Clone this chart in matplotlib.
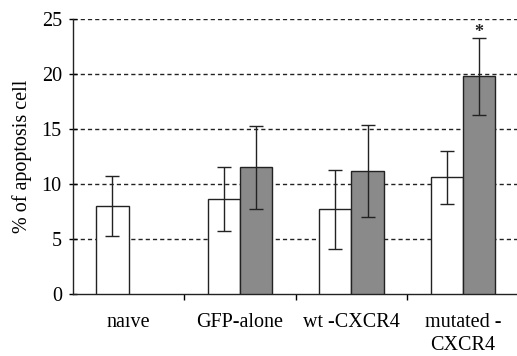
import matplotlib
matplotlib.use("Agg")
import matplotlib.pyplot as plt
import numpy as np

categories = ["naıve", "GFP-alone", "wt -CXCR4", "mutated -\nCXCR4"]
white_vals = [8.0, 8.6, 7.7, 10.6]
white_err = [2.7, 2.9, 3.6, 2.4]
grey_vals = [np.nan, 11.5, 11.2, 19.8]
grey_err = [np.nan, 3.8, 4.2, 3.5]
yticks = [0, 5, 10, 15, 20, 25]

plt.rcParams['font.family'] = ['Liberation Serif', 'DejaVu Serif']

fig = plt.figure(figsize=(5.17, 3.56), dpi=100)
ax = fig.add_axes([0.141, 0.174, 0.862, 0.773])

x = np.arange(len(categories)) + 0.5
w = 0.29
ax.bar(x - w/2, white_vals, w, color='white', edgecolor='#222222', linewidth=1.0, zorder=3)
ax.bar(x + w/2, grey_vals, w, color='#8a8a8a', edgecolor='#222222', linewidth=1.0, zorder=3)
ax.errorbar(x - w/2, white_vals, yerr=white_err, fmt='none', ecolor='#222222',
            elinewidth=1.0, capsize=5, capthick=1.0, zorder=4)
gv = np.array(grey_vals); ge = np.array(grey_err)
m = ~np.isnan(gv)
ax.errorbar((x + w/2)[m], gv[m], yerr=ge[m], fmt='none', ecolor='#222222',
            elinewidth=1.0, capsize=5, capthick=1.0, zorder=4)

# significance marker
ax.text(x[3] + w/2, gv[3] + ge[3] + 0.5, "*", ha='center', va='center', fontsize=13,
        color='#222222', fontweight='bold')

for yv in yticks[1:]:
    ax.axhline(yv, color='#222222', linestyle=(0, (3, 2.2)), linewidth=1.0, zorder=1)

fs = 14.5
ax.set_xlim(0, 4)
ax.set_ylim(0, 25)
ax.set_yticks(yticks)
ax.set_yticklabels([str(v) for v in yticks], fontsize=fs)
ax.set_xticks([1, 2, 3])
ax.set_xticklabels([])
ax.tick_params(axis='x', direction='out', length=4, width=1.0)
ax.tick_params(axis='y', direction='inout', length=6, width=1.0, pad=5)
for i, c in enumerate(categories):
    ax.text(x[i], -1.75, c, ha='center', va='top', fontsize=fs, linespacing=1.25)
ax.set_ylabel("% of apoptosis cell", fontsize=fs, labelpad=7)
for s in ['top', 'right']:
    ax.spines[s].set_visible(False)
ax.spines['left'].set_linewidth(1.0)
ax.spines['bottom'].set_linewidth(1.0)
ax.spines['left'].set_color('#222222')
ax.spines['bottom'].set_color('#222222')

fig.savefig("out.png", dpi=100)
